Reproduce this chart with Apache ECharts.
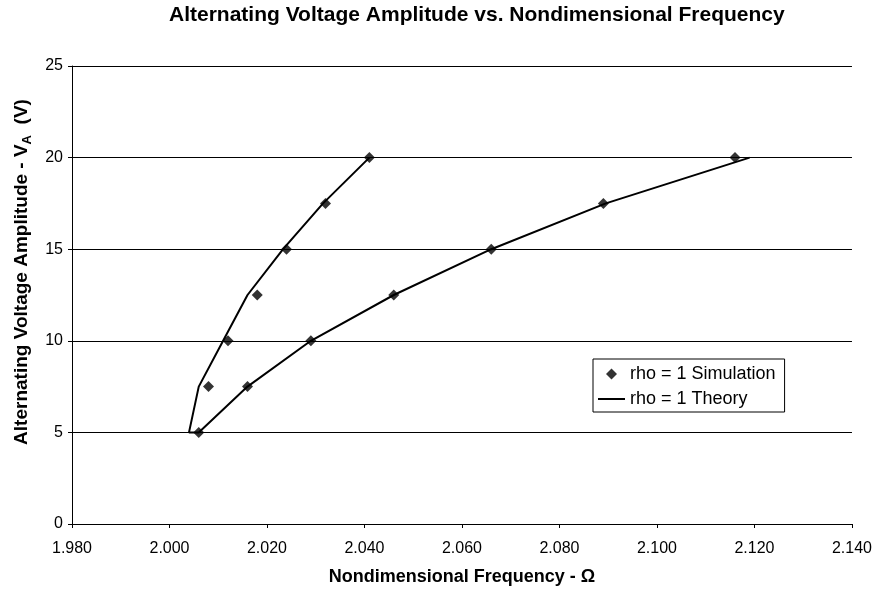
<!DOCTYPE html>
<html>
<head>
<meta charset="utf-8">
<script src="https://cdn.jsdelivr.net/npm/echarts@6/dist/echarts.min.js"></script>
<style>
  html, body { margin: 0; padding: 0; background: #fff; }
  #chart { width: 875px; height: 594px; }
</style>
</head>
<body>
<div id="chart"></div>
<script>
// Simulated operating points: [frequency, amplitude]
const simUpper = [[2.006, 5], [2.008, 7.5], [2.012, 10], [2.018, 12.5], [2.024, 15], [2.032, 17.5], [2.041, 20]];
const simLower = [[2.016, 7.5], [2.029, 10], [2.046, 12.5], [2.066, 15], [2.089, 17.5], [2.116, 20]];

// Theoretical backbone, traced from the upper branch down to the turning point and back up the lower branch
const theoryUpper = [[2.041, 20], [2.0315, 17.5], [2.0233, 15], [2.016, 12.5], [2.011, 10], [2.006, 7.5], [2.004, 5]];
const theoryLower = [[2.006, 5], [2.016, 7.5], [2.029, 10], [2.046, 12.5], [2.066, 15], [2.0895, 17.5], [2.119, 20]];

const xTicks = { min: 1.98, max: 2.14, step: 0.02 };
const yTicks = { min: 0, max: 25, step: 5 };

const FONT = "'Liberation Sans', Arial, Helvetica, sans-serif";

const chart = echarts.init(document.getElementById('chart'), null, { renderer: 'canvas' });

chart.setOption({
  backgroundColor: '#ffffff',
  animation: false,
  title: {
    text: 'Alternating Voltage Amplitude vs. Nondimensional Frequency',
    left: 169,
    top: 5,
    padding: 0,
    textStyle: { fontFamily: FONT, fontWeight: 'bold', fontSize: 21, color: '#000' }
  },
  legend: {
    orient: 'vertical',
    left: 593,
    top: 359,
    padding: [6, 9, 4, 5],
    itemGap: 7,
    itemWidth: 27,
    itemHeight: 11,
    symbolKeepAspect: true,
    borderColor: '#000',
    borderWidth: 1,
    backgroundColor: '#fff',
    textStyle: { fontFamily: FONT, fontSize: 18, color: '#000', lineHeight: 18 },
    data: [
      { name: 'rho = 1 Simulation', icon: 'path://M5,0 L10,5 L5,10 L0,5 Z' },
      { name: 'rho = 1 Theory', icon: 'path://M0,0 L27,0 L27,2 L0,2 Z' }
    ]
  },
  grid: { left: 72, right: 22, top: 66, bottom: 70, containLabel: false },
  xAxis: {
    type: 'value',
    min: xTicks.min,
    max: xTicks.max,
    interval: xTicks.step,
    name: 'Nondimensional Frequency - Ω',
    nameLocation: 'middle',
    nameGap: 44,
    nameTextStyle: { fontFamily: FONT, fontWeight: 'bold', fontSize: 18, color: '#000' },
    axisLine: { show: true, lineStyle: { color: '#000', width: 1 } },
    axisTick: { show: true, length: 4, inside: false, lineStyle: { color: '#000' } },
    axisLabel: {
      margin: 17,
      fontFamily: FONT, fontSize: 16, color: '#000',
      formatter: v => v.toFixed(3)
    },
    splitLine: { show: false }
  },
  yAxis: {
    type: 'value',
    min: yTicks.min,
    max: yTicks.max,
    interval: yTicks.step,
    name: '{t|Alternating Voltage Amplitude - V}{s|A}{t|  (V)}',
    nameLocation: 'middle',
    nameGap: 37,
    nameTextStyle: {
      padding: [0, 0, 0, 46],
      rich: {
        t: { fontFamily: FONT, fontWeight: 'bold', fontSize: 19, color: '#000', verticalAlign: 'bottom', lineHeight: 23 },
        s: { fontFamily: FONT, fontWeight: 'bold', fontSize: 13, color: '#000', verticalAlign: 'bottom', lineHeight: 23, padding: [0, 0, -3, 0] }
      }
    },
    axisLine: { show: true, lineStyle: { color: '#000', width: 1 } },
    axisTick: { show: true, length: 4, inside: false, lineStyle: { color: '#000' } },
    axisLabel: { margin: 9, fontFamily: FONT, fontSize: 16, color: '#000' },
    splitLine: { show: true, lineStyle: { color: '#000', width: 1 } }
  },
  series: [
    {
      name: 'rho = 1 Simulation',
      type: 'scatter',
      symbol: 'diamond',
      symbolSize: 11,
      itemStyle: { color: '#000' },
      z: 3,
      data: simUpper.concat(simLower)
    },
    {
      name: 'rho = 1 Theory',
      type: 'line',
      symbol: 'none',
      lineStyle: { color: '#000', width: 2 },
      itemStyle: { color: '#000' },
      z: 2,
      data: theoryUpper.concat(theoryLower)
    }
  ]
});
</script>
</body>
</html>
